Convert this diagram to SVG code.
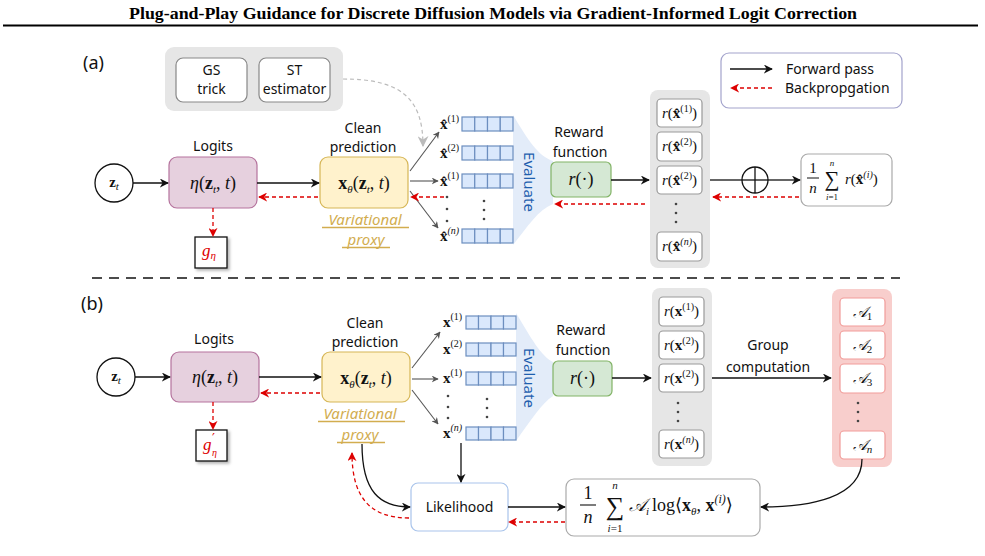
<svg xmlns="http://www.w3.org/2000/svg" width="985" height="556" viewBox="0 0 985 556">
<style>
.lbl{font-family:"Noto Sans","Open Sans",sans-serif;font-size:14px;fill:#111;text-anchor:middle}
.m{font-family:"Liberation Serif","DejaVu Serif",serif;font-size:18px;fill:#111}
.ms{font-family:"Liberation Serif","DejaVu Serif",serif;font-size:15px;fill:#111}
.i{font-style:italic}
.b{font-weight:bold;font-style:normal}
.sub{font-size:11px}
.sup{font-size:10px}
.fw{stroke:#111;stroke-width:1.3;fill:none}
.bp{stroke:#d00;stroke-width:1.3;fill:none;stroke-dasharray:4 3}
.fan{stroke:#555;stroke-width:1.1;fill:none}
.cell{fill:#dae8fc;stroke:#6c8ebf;stroke-width:1.2}
.rb{fill:#fff;stroke:#999;stroke-width:1.2}
.ab{fill:#fff;stroke:#f19c99;stroke-width:1.2}
.dot{fill:#444}
.vp{font-family:"Noto Sans","Open Sans",sans-serif;font-size:15px;font-style:italic;fill:#d2ad4f;text-anchor:middle}
.ev{font-family:"Noto Sans","Open Sans",sans-serif;font-size:15px;fill:#1f5fae;text-anchor:middle}
</style>
<defs>
<marker id="ak" viewBox="0 0 10 10" refX="9" refY="5" markerWidth="9" markerHeight="9" markerUnits="userSpaceOnUse" orient="auto"><path d="M0,0 L10,5 L0,10 L3,5 Z" fill="#111"/></marker>
<marker id="ar" viewBox="0 0 10 10" refX="9" refY="5" markerWidth="9" markerHeight="9" markerUnits="userSpaceOnUse" orient="auto"><path d="M0,0 L10,5 L0,10 L3,5 Z" fill="#d00"/></marker>
<marker id="ag" viewBox="0 0 10 10" refX="9" refY="5" markerWidth="7" markerHeight="7" markerUnits="userSpaceOnUse" orient="auto"><path d="M0,0 L10,5 L0,10 L3,5 Z" fill="#555"/></marker>
<marker id="agl" viewBox="0 0 10 10" refX="9" refY="5" markerWidth="11" markerHeight="11" markerUnits="userSpaceOnUse" orient="auto"><path d="M0,0 L10,5 L0,10 L3,5 Z" fill="#bbb"/></marker>
<filter id="sh" x="-20%" y="-20%" width="150%" height="150%"><feDropShadow dx="2" dy="2" stdDeviation="1.5" flood-color="#000" flood-opacity="0.3"/></filter>
</defs>
<rect width="985" height="556" fill="#fff"/>

<g id="title">
<text x="493" y="19" text-anchor="middle" font-family="Liberation Serif,serif" font-weight="bold" font-size="16" textLength="728" lengthAdjust="spacingAndGlyphs" fill="#000">Plug-and-Play Guidance for Discrete Diffusion Models via Gradient-Informed Logit Correction</text>
<line x1="3" y1="25.5" x2="978" y2="25.5" stroke="#000" stroke-width="2"/>
</g>

<!-- ===== Panel (a) ===== -->
<text x="83" y="69" font-family="Noto Sans,sans-serif" font-size="18" fill="#111">(a)</text>

<g id="estimators">
<rect x="165" y="47" width="178" height="64" rx="9" fill="#e6e6e6"/>
<rect x="176" y="58" width="71" height="44" rx="7" fill="#fff" stroke="#888" stroke-width="1.2"/>
<text class="lbl" x="211.5" y="75">GS</text><text class="lbl" x="211.5" y="94">trick</text>
<rect x="259" y="58" width="71" height="44" rx="7" fill="#fff" stroke="#888" stroke-width="1.2"/>
<text class="lbl" x="294.5" y="75">ST</text><text class="lbl" x="294.5" y="94">estimator</text>
</g>

<g id="legend">
<rect x="721" y="53" width="181" height="55" rx="8" fill="#fff" stroke="#a3a3cc" stroke-width="1.2"/>
<line x1="730" y1="69" x2="772" y2="69" class="fw" marker-end="url(#ak)"/>
<text x="786" y="74" font-family="Noto Sans,sans-serif" font-size="14" fill="#111">Forward pass</text>
<line x1="772" y1="88" x2="731" y2="88" class="bp" marker-end="url(#ar)"/>
<text x="785" y="93" font-family="Noto Sans,sans-serif" font-size="14" fill="#111">Backpropgation</text>
</g>

<g id="a-zt">
<circle cx="114" cy="183" r="19" fill="#fff" stroke="#111" stroke-width="1.3"/>
<text class="ms" x="114" y="187" text-anchor="middle"><tspan class="b">z</tspan><tspan class="i sub" dy="3">t</tspan></text>
</g>

<g id="a-logits">
<text class="lbl" x="213" y="151">Logits</text>
<rect x="169" y="157" width="88" height="51" rx="8" fill="#e6d0de" stroke="#b5739d" stroke-width="1.2"/>
<text class="m" x="213" y="189" text-anchor="middle"><tspan class="i">η</tspan>(<tspan class="b">z</tspan><tspan class="i sub" dy="4">t</tspan><tspan dy="-4">, </tspan><tspan class="i">t</tspan>)</text>
</g>

<g id="a-g">
<rect x="195" y="237" width="32" height="31" fill="#fff" stroke="#111" stroke-width="1.3" filter="url(#sh)"/>
<text x="209" y="256" text-anchor="middle" font-family="Liberation Serif,serif" font-size="17" fill="#d00"><tspan font-style="italic">g</tspan><tspan font-style="italic" font-size="11" dy="3">η</tspan></text>
</g>

<g id="a-xtheta">
<text class="lbl" x="363" y="133">Clean</text><text class="lbl" x="363" y="152">prediction</text>
<rect x="320" y="157" width="88" height="51" rx="8" fill="#fff2cc" stroke="#d6b656" stroke-width="1.2"/>
<text class="m" x="364" y="189" text-anchor="middle"><tspan class="b">x</tspan><tspan class="i sub" dy="4">θ</tspan><tspan dy="-4">(</tspan><tspan class="b">z</tspan><tspan class="i sub" dy="4">t</tspan><tspan dy="-4">, </tspan><tspan class="i">t</tspan>)</text>
<text class="vp" x="365" y="225">Variational</text>
<line x1="322" y1="227.5" x2="409" y2="227.5" stroke="#d2ad4f" stroke-width="1.3"/>
<text class="vp" x="366" y="245">proxy </text>
<line x1="342" y1="247.5" x2="390" y2="247.5" stroke="#d2ad4f" stroke-width="1.3"/>
</g>

<g id="a-samples">
<path d="M513,115 C528,140 538,156 553,161 L553,204 C538,210 528,226 513,245 Z" fill="#e3ecf9"/>
<g class="ms">
<text x="440" y="129"><tspan class="b">x&#x302;</tspan><tspan class="sup" dy="-7">(1)</tspan></text>
<text x="440" y="158"><tspan class="b">x&#x302;</tspan><tspan class="sup" dy="-7">(2)</tspan></text>
<text x="440" y="186"><tspan class="b">x&#x302;</tspan><tspan class="sup" dy="-7">(1)</tspan></text>
<text x="440" y="241"><tspan class="b">x&#x302;</tspan><tspan class="sup i" dy="-7">(n)</tspan></text>
</g>
<g>
<rect class="cell" x="462" y="117" width="12.75" height="14"/><rect class="cell" x="474.75" y="117" width="12.75" height="14"/><rect class="cell" x="487.5" y="117" width="12.75" height="14"/><rect class="cell" x="500.25" y="117" width="12.75" height="14"/>
<rect class="cell" x="462" y="146" width="12.75" height="14"/><rect class="cell" x="474.75" y="146" width="12.75" height="14"/><rect class="cell" x="487.5" y="146" width="12.75" height="14"/><rect class="cell" x="500.25" y="146" width="12.75" height="14"/>
<rect class="cell" x="462" y="174" width="12.75" height="14"/><rect class="cell" x="474.75" y="174" width="12.75" height="14"/><rect class="cell" x="487.5" y="174" width="12.75" height="14"/><rect class="cell" x="500.25" y="174" width="12.75" height="14"/>
<rect class="cell" x="462" y="229" width="12.75" height="14"/><rect class="cell" x="474.75" y="229" width="12.75" height="14"/><rect class="cell" x="487.5" y="229" width="12.75" height="14"/><rect class="cell" x="500.25" y="229" width="12.75" height="14"/>
</g>
<circle class="dot" cx="447" cy="197" r="1.3"/><circle class="dot" cx="447" cy="209" r="1.3"/><circle class="dot" cx="447" cy="221" r="1.3"/>
<circle class="dot" cx="484" cy="201" r="1.3"/><circle class="dot" cx="484" cy="210" r="1.3"/><circle class="dot" cx="484" cy="219" r="1.3"/>
<text class="ev" transform="translate(524,182) rotate(90)">Evaluate</text>
</g>

<g id="a-reward">
<text class="lbl" x="579" y="137">Reward</text><text class="lbl" x="580" y="157">function</text>
<rect x="551" y="162" width="60" height="35" rx="5" fill="#d5e8d4" stroke="#82b366" stroke-width="1.2"/>
<text class="m" x="581" y="185" text-anchor="middle"><tspan class="i">r</tspan>(·)</text>
</g>

<g id="a-rewards">
<rect x="650" y="90" width="60" height="178" rx="8" fill="#e6e6e6"/>
<rect class="rb" x="657" y="99" width="45" height="28" rx="4"/>
<rect class="rb" x="657" y="132" width="45" height="29" rx="4"/>
<rect class="rb" x="657" y="166" width="45" height="28" rx="4"/>
<rect class="rb" x="657" y="232" width="45" height="29" rx="4"/>
<g class="ms" text-anchor="middle">
<text x="679.5" y="118"><tspan class="i">r</tspan>(<tspan class="b">x&#x302;</tspan><tspan class="sup" dy="-6">(1)</tspan><tspan dy="6">)</tspan></text>
<text x="679.5" y="151"><tspan class="i">r</tspan>(<tspan class="b">x&#x302;</tspan><tspan class="sup" dy="-6">(2)</tspan><tspan dy="6">)</tspan></text>
<text x="679.5" y="185"><tspan class="i">r</tspan>(<tspan class="b">x&#x302;</tspan><tspan class="sup" dy="-6">(2)</tspan><tspan dy="6">)</tspan></text>
<text x="679.5" y="251"><tspan class="i">r</tspan>(<tspan class="b">x&#x302;</tspan><tspan class="sup i" dy="-6">(n)</tspan><tspan dy="6">)</tspan></text>
</g>
<circle class="dot" cx="676" cy="204" r="1.3"/><circle class="dot" cx="676" cy="213" r="1.3"/><circle class="dot" cx="676" cy="222" r="1.3"/>
</g>

<g id="a-oplus">
<circle cx="755" cy="180" r="13" fill="#fff" stroke="#111" stroke-width="1.3"/>
<line x1="742" y1="180" x2="768" y2="180" stroke="#111" stroke-width="1.3"/>
<line x1="755" y1="167" x2="755" y2="193" stroke="#111" stroke-width="1.3"/>
</g>

<g id="a-sum">
<rect x="801" y="154" width="91" height="52" rx="7" fill="#fff" stroke="#aaa" stroke-width="1.2"/>
<text class="ms" x="813" y="173" text-anchor="middle">1</text>
<line x1="807" y1="178" x2="819" y2="178" stroke="#111" stroke-width="1"/>
<text class="ms i" x="813" y="193" text-anchor="middle">n</text>
<text x="832" y="186" text-anchor="middle" font-family="Liberation Serif,serif" font-size="21" fill="#111">∑</text>
<text x="832" y="166" text-anchor="middle" font-family="Liberation Serif,serif" font-size="9" font-style="italic" fill="#111">n</text>
<text x="832" y="200" text-anchor="middle" font-family="Liberation Serif,serif" font-size="9" fill="#111"><tspan font-style="italic">i</tspan>=1</text>
<text class="ms" x="845" y="184"><tspan class="i">r</tspan>(<tspan class="b">x&#x302;</tspan><tspan class="sup i" dy="-6">(i)</tspan><tspan dy="6">)</tspan></text>
</g>

<g id="a-connectors">
<line x1="133" y1="183" x2="168" y2="183" class="fw" marker-end="url(#ak)"/>
<line x1="257" y1="183" x2="319" y2="183" class="fw" marker-end="url(#ak)"/>
<line x1="318" y1="197" x2="259" y2="197" class="bp" marker-end="url(#ar)"/>
<line x1="213" y1="208" x2="213" y2="236" class="bp" marker-end="url(#ar)"/>
<path d="M343,79 C403,79 423,100 423,146" stroke="#bbb" stroke-width="1.2" fill="none" stroke-dasharray="4 3" marker-end="url(#agl)"/>
<line x1="410" y1="171" x2="439" y2="132" class="fan" marker-end="url(#ag)"/>
<line x1="410" y1="181" x2="438" y2="181" class="fan" marker-end="url(#ag)"/>
<line x1="410" y1="191" x2="438" y2="228" class="fan" marker-end="url(#ag)"/>
<line x1="444" y1="197" x2="411" y2="197" class="bp" marker-end="url(#ar)"/>
<line x1="611" y1="180" x2="649" y2="180" class="fw" marker-end="url(#ak)"/>
<line x1="645" y1="204" x2="555" y2="204" class="bp" marker-end="url(#ar)"/>
<line x1="710" y1="180" x2="742" y2="180" class="fw"/>
<line x1="768" y1="180" x2="800" y2="180" class="fw" marker-end="url(#ak)"/>
<line x1="799" y1="197" x2="713" y2="197" class="bp" marker-end="url(#ar)"/>
</g>

<line x1="92" y1="278" x2="900" y2="278" stroke="#111" stroke-width="1.3" stroke-dasharray="10 7"/>

<!-- ===== Panel (b) ===== -->
<text x="81" y="310" font-family="Noto Sans,sans-serif" font-size="18" fill="#111">(b)</text>

<g id="b-zt">
<circle cx="116" cy="377" r="19" fill="#fff" stroke="#111" stroke-width="1.3"/>
<text class="ms" x="116" y="381" text-anchor="middle"><tspan class="b">z</tspan><tspan class="i sub" dy="3">t</tspan></text>
</g>

<g id="b-logits">
<text class="lbl" x="214" y="344">Logits</text>
<rect x="171" y="352" width="88" height="50" rx="8" fill="#e6d0de" stroke="#b5739d" stroke-width="1.2"/>
<text class="m" x="215" y="383" text-anchor="middle"><tspan class="i">η</tspan>(<tspan class="b">z</tspan><tspan class="i sub" dy="4">t</tspan><tspan dy="-4">, </tspan><tspan class="i">t</tspan>)</text>
</g>

<g id="b-g">
<rect x="196" y="430" width="31" height="31" fill="#fff" stroke="#111" stroke-width="1.3" filter="url(#sh)"/>
<text x="203" y="450" font-family="Liberation Serif,serif" font-size="17" font-style="italic" fill="#d00">g</text>
<text x="212" y="443" font-family="DejaVu Serif,serif" font-size="13" fill="#d00">′</text>
<text x="212" y="456" font-family="Liberation Serif,serif" font-size="10" font-style="italic" fill="#d00">η</text>
</g>

<g id="b-xtheta">
<text class="lbl" x="365" y="328">Clean</text><text class="lbl" x="365" y="347">prediction</text>
<rect x="322" y="352" width="88" height="50" rx="8" fill="#fff2cc" stroke="#d6b656" stroke-width="1.2"/>
<text class="m" x="366" y="384" text-anchor="middle"><tspan class="b">x</tspan><tspan class="i sub" dy="4">θ</tspan><tspan dy="-4">(</tspan><tspan class="b">z</tspan><tspan class="i sub" dy="4">t</tspan><tspan dy="-4">, </tspan><tspan class="i">t</tspan>)</text>
<text class="vp" x="360" y="419">Variational</text>
<line x1="318" y1="421.5" x2="405" y2="421.5" stroke="#d2ad4f" stroke-width="1.3"/>
<text class="vp" x="360" y="440">proxy </text>
<line x1="337" y1="442.5" x2="385" y2="442.5" stroke="#d2ad4f" stroke-width="1.3"/>
</g>

<g id="b-samples">
<path d="M516,313 C531,338 541,356 553,362 L553,396 C541,404 531,420 516,441 Z" fill="#e3ecf9"/>
<g class="ms">
<text x="443" y="327"><tspan class="b">x</tspan><tspan class="sup" dy="-7">(1)</tspan></text>
<text x="443" y="354"><tspan class="b">x</tspan><tspan class="sup" dy="-7">(2)</tspan></text>
<text x="443" y="383"><tspan class="b">x</tspan><tspan class="sup" dy="-7">(1)</tspan></text>
<text x="443" y="438"><tspan class="b">x</tspan><tspan class="sup i" dy="-7">(n)</tspan></text>
</g>
<g>
<rect class="cell" x="466" y="316" width="12.5" height="13"/><rect class="cell" x="478.5" y="316" width="12.5" height="13"/><rect class="cell" x="491" y="316" width="12.5" height="13"/><rect class="cell" x="503.5" y="316" width="12.5" height="13"/>
<rect class="cell" x="466" y="343" width="12.5" height="13"/><rect class="cell" x="478.5" y="343" width="12.5" height="13"/><rect class="cell" x="491" y="343" width="12.5" height="13"/><rect class="cell" x="503.5" y="343" width="12.5" height="13"/>
<rect class="cell" x="466" y="372" width="12.5" height="13"/><rect class="cell" x="478.5" y="372" width="12.5" height="13"/><rect class="cell" x="491" y="372" width="12.5" height="13"/><rect class="cell" x="503.5" y="372" width="12.5" height="13"/>
<rect class="cell" x="466" y="427" width="12.5" height="13"/><rect class="cell" x="478.5" y="427" width="12.5" height="13"/><rect class="cell" x="491" y="427" width="12.5" height="13"/><rect class="cell" x="503.5" y="427" width="12.5" height="13"/>
</g>
<circle class="dot" cx="448" cy="396" r="1.3"/><circle class="dot" cx="448" cy="407" r="1.3"/><circle class="dot" cx="448" cy="418" r="1.3"/>
<circle class="dot" cx="487" cy="399" r="1.3"/><circle class="dot" cx="487" cy="408" r="1.3"/><circle class="dot" cx="487" cy="417" r="1.3"/>
<text class="ev" transform="translate(524,378) rotate(90)">Evaluate</text>
</g>

<g id="b-reward">
<text class="lbl" x="581" y="335">Reward</text><text class="lbl" x="583" y="355">function</text>
<rect x="553" y="361" width="59" height="35" rx="5" fill="#d5e8d4" stroke="#82b366" stroke-width="1.2"/>
<text class="m" x="582.5" y="384" text-anchor="middle"><tspan class="i">r</tspan>(·)</text>
</g>

<g id="b-rewards">
<rect x="652" y="288" width="60" height="178" rx="8" fill="#e6e6e6"/>
<rect class="rb" x="659" y="297" width="45" height="29" rx="4"/>
<rect class="rb" x="659" y="331" width="45" height="28" rx="4"/>
<rect class="rb" x="659" y="364" width="45" height="28" rx="4"/>
<rect class="rb" x="659" y="430" width="45" height="28" rx="4"/>
<g class="ms" text-anchor="middle">
<text x="681.5" y="316"><tspan class="i">r</tspan>(<tspan class="b">x</tspan><tspan class="sup" dy="-6">(1)</tspan><tspan dy="6">)</tspan></text>
<text x="681.5" y="350"><tspan class="i">r</tspan>(<tspan class="b">x</tspan><tspan class="sup" dy="-6">(2)</tspan><tspan dy="6">)</tspan></text>
<text x="681.5" y="383"><tspan class="i">r</tspan>(<tspan class="b">x</tspan><tspan class="sup" dy="-6">(2)</tspan><tspan dy="6">)</tspan></text>
<text x="681.5" y="449"><tspan class="i">r</tspan>(<tspan class="b">x</tspan><tspan class="sup i" dy="-6">(n)</tspan><tspan dy="6">)</tspan></text>
</g>
<circle class="dot" cx="678" cy="403" r="1.3"/><circle class="dot" cx="678" cy="412" r="1.3"/><circle class="dot" cx="678" cy="421" r="1.3"/>
</g>

<g id="b-advantages">
<rect x="832" y="289" width="60" height="178" rx="8" fill="#f8cecc"/>
<rect class="ab" x="840" y="298" width="45" height="28" rx="4"/>
<rect class="ab" x="840" y="331" width="45" height="28" rx="4"/>
<rect class="ab" x="840" y="364" width="45" height="29" rx="4"/>
<rect class="ab" x="840" y="431" width="45" height="28" rx="4"/>
<g class="ms" text-anchor="middle">
<text x="862.5" y="317"><tspan class="i">𝒜</tspan><tspan class="sub" dy="3">1</tspan></text>
<text x="862.5" y="350"><tspan class="i">𝒜</tspan><tspan class="sub" dy="3">2</tspan></text>
<text x="862.5" y="383"><tspan class="i">𝒜</tspan><tspan class="sub" dy="3">3</tspan></text>
<text x="862.5" y="450"><tspan class="i">𝒜</tspan><tspan class="sub i" dy="3">n</tspan></text>
</g>
<circle class="dot" cx="858" cy="403" r="1.3"/><circle class="dot" cx="858" cy="412" r="1.3"/><circle class="dot" cx="858" cy="421" r="1.3"/>
</g>

<text class="lbl" x="768" y="350">Group</text>
<text class="lbl" x="768" y="372">computation</text>

<g id="b-likelihood">
<rect x="411" y="483" width="97" height="48" rx="7" fill="#fff" stroke="#a9c4eb" stroke-width="1.2"/>
<text class="lbl" x="459.5" y="512">Likelihood</text>
</g>

<g id="b-sum">
<rect x="566" y="479" width="194" height="57" rx="8" fill="#fff" stroke="#aaa" stroke-width="1.2"/>
<text class="m" x="588" y="499" text-anchor="middle">1</text>
<line x1="580" y1="505" x2="596" y2="505" stroke="#111" stroke-width="1.1"/>
<text class="m i" x="588" y="523" text-anchor="middle">n</text>
<text x="615" y="515" text-anchor="middle" font-family="Liberation Serif,serif" font-size="26" fill="#111">∑</text>
<text x="615" y="489" text-anchor="middle" font-family="Liberation Serif,serif" font-size="11" font-style="italic" fill="#111">n</text>
<text x="615" y="532" text-anchor="middle" font-family="Liberation Serif,serif" font-size="11" fill="#111"><tspan font-style="italic">i</tspan>=1</text>
<text class="m" x="629" y="511"><tspan class="i">𝒜</tspan><tspan class="i sub" dy="4">i</tspan><tspan dy="-4" dx="3">log⟨</tspan><tspan class="b">x</tspan><tspan class="i sub" dy="4">θ</tspan><tspan dy="-4">, </tspan><tspan class="b">x</tspan><tspan class="i" style="font-size:12px" dy="-8">(i)</tspan><tspan dy="8">⟩</tspan></text>
</g>

<g id="b-connectors">
<line x1="135" y1="377" x2="170" y2="377" class="fw" marker-end="url(#ak)"/>
<line x1="259" y1="377" x2="321" y2="377" class="fw" marker-end="url(#ak)"/>
<line x1="320" y1="393" x2="261" y2="393" class="bp" marker-end="url(#ar)"/>
<line x1="213" y1="402" x2="213" y2="429" class="bp" marker-end="url(#ar)"/>
<line x1="412" y1="368" x2="440" y2="332" class="fan" marker-end="url(#ag)"/>
<line x1="412" y1="379" x2="438" y2="379" class="fan" marker-end="url(#ag)"/>
<line x1="412" y1="390" x2="438" y2="424" class="fan" marker-end="url(#ag)"/>
<line x1="612" y1="378" x2="651" y2="378" class="fw" marker-end="url(#ak)"/>
<line x1="712" y1="378" x2="831" y2="378" class="fw" marker-end="url(#ak)"/>
<line x1="461" y1="443" x2="461" y2="482" class="fw" marker-end="url(#ak)"/>
<path d="M362,444 C362,492 380,507 410,507" class="fw" marker-end="url(#ak)"/>
<path d="M409,518 C368,518 352,495 352,453" class="bp" marker-end="url(#ar)"/>
<line x1="508" y1="507" x2="565" y2="507" class="fw" marker-end="url(#ak)"/>
<line x1="565" y1="522" x2="509" y2="522" class="bp" marker-end="url(#ar)"/>
<path d="M862,459 C862,498 810,507 761,507" class="fw" marker-end="url(#ak)"/>
</g>
</svg>
